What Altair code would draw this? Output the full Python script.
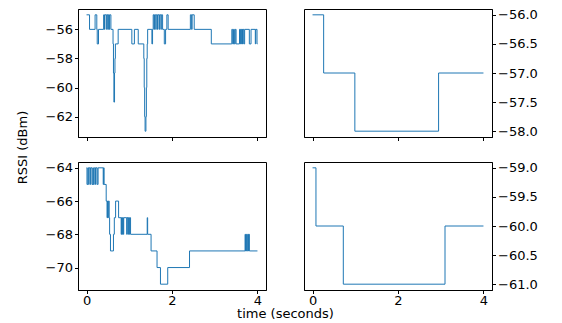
import altair as alt
import pandas as pd

# ---- data (time in seconds, RSSI in dBm) ----
tl_t = [0.00, 0.07, 0.20, 0.24, 0.25, 0.28, 0.40, 0.42, 0.43, 0.47, 0.48, 0.50, 0.51, 0.53,
        0.54, 0.57, 0.62, 0.63, 0.64, 0.655, 0.665, 0.675, 0.74, 1.06, 1.12, 1.21, 1.34,
        1.35, 1.36, 1.37, 1.39, 1.40, 1.41, 1.42, 1.43, 1.53, 1.545, 1.56, 1.58, 1.59, 1.62,
        1.63, 1.66, 1.67, 1.70, 1.71, 1.74, 1.75, 1.78, 1.82, 1.85, 1.88, 1.91, 2.43, 2.46,
        2.47, 2.52, 2.92, 3.40, 3.42, 3.44, 3.46, 3.48, 3.50, 3.58, 3.60, 3.61, 3.63, 3.64,
        3.65, 3.66, 3.68, 3.70, 3.81, 3.85, 3.95, 3.96, 3.99, 4.00]
tl_v = [-55, -56, -55, -56, -57, -56, -55, -56, -55, -56, -55, -56, -55, -56,
        -55, -56, -57, -59, -61, -59, -58, -57, -56, -57, -56, -57, -58,
        -60, -62, -63, -62, -60, -58, -57, -56, -57, -56, -55, -56, -55, -56,
        -55, -56, -55, -56, -55, -56, -55, -56, -57, -56, -55, -56, -55, -56,
        -55, -56, -57, -56, -57, -56, -57, -56, -57, -56, -57, -56, -57, -56,
        -57, -56, -57, -56, -57, -56, -57, -56, -57, -57]

bl_t = [0.00, 0.01, 0.03, 0.05, 0.06, 0.09, 0.10, 0.13, 0.15, 0.16, 0.18, 0.21, 0.22, 0.25,
        0.27, 0.39, 0.40, 0.41, 0.43, 0.46, 0.48, 0.49, 0.50, 0.51, 0.53, 0.54, 0.56, 0.63,
        0.65, 0.68, 0.75, 0.81, 0.82, 0.83, 0.84, 0.86, 0.87, 0.94, 0.95, 0.97, 0.98, 1.00,
        1.01, 1.03, 1.42, 1.43, 1.51, 1.65, 1.73, 1.90, 2.41, 3.71, 3.72, 3.74, 3.75, 3.77,
        3.79, 3.80, 3.81, 4.00]
bl_v = [-64, -65, -64, -65, -64, -65, -64, -65, -64, -65, -64, -65, -64, -65,
        -64, -65, -64, -65, -65, -66, -67, -66, -67, -66, -67, -68, -69, -68,
        -67, -66, -67, -68, -67, -68, -67, -68, -67, -68, -67, -68, -67, -68,
        -67, -68, -67, -68, -69, -70, -71, -70, -69, -68, -69, -68, -69, -68,
        -69, -68, -69, -69]

tr_t = [0.00, 0.26, 0.99, 2.95, 4.00]
tr_v = [-56, -57, -58, -57, -57]

br_t = [0.00, 0.08, 0.72, 3.10, 4.00]
br_v = [-59, -60, -61, -60, -60]

x_ticks = [0, 2, 4]
tl_yticks = [-56, -58, -60, -62]
bl_yticks = [-64, -66, -68, -70]
tr_yticks = [-56.0, -56.5, -57.0, -57.5, -58.0]
br_yticks = [-59.0, -59.5, -60.0, -60.5, -61.0]

W, H = 188, 128
LINE = "#1f77b4"


def panel(t, v, ydom, yticks, yfmt, yorient, xlabels, yextra=None, xextra=None):
    df = pd.DataFrame({"t": t, "v": v})
    xkw = dict(values=x_ticks, format="d", labels=xlabels, grid=False,
               labelFlush=False, labelPadding=1, title=None)
    if xextra:
        xkw.update(xextra)
    ykw = dict(values=yticks, format=yfmt, orient=yorient, grid=False,
               labelFlush=False, title=None)
    if yextra:
        ykw.update(yextra)
    return (
        alt.Chart(df)
        .mark_line(interpolate="step-after", color=LINE, strokeWidth=1)
        .encode(
            x=alt.X("t:Q", scale=alt.Scale(domain=[-0.2, 4.2], nice=False, zero=False),
                    axis=alt.Axis(**xkw)),
            y=alt.Y("v:Q", scale=alt.Scale(domain=ydom, nice=False, zero=False),
                    axis=alt.Axis(**ykw)),
        )
        .properties(width=W, height=H)
    )


tl = panel(tl_t, tl_v, [-63.4, -54.6], tl_yticks, "d", "left", False,
           yextra=dict(title="RSSI (dBm)", titleX=-56, titleY=138, titleAngle=270,
                       titleBaseline="middle", titleAlign="center"))
tr = panel(tr_t, tr_v, [-58.1, -55.9], tr_yticks, ".1f", "right", False)
bl = panel(bl_t, bl_v, [-71.35, -63.65], bl_yticks, "d", "left", True,
           xextra=dict(title="time (seconds)", titleX=207, titleY=23,
                       titleBaseline="middle", titleAlign="center"))
br = panel(br_t, br_v, [-61.1, -58.9], br_yticks, ".1f", "right", True)

chart = (
    alt.concat(tl, tr, bl, br, columns=2, spacing={"row": 25, "column": 38}, bounds="flush")
    .properties(padding={"left": 7, "top": 0, "right": 5, "bottom": 0}, background="white")
    .configure_view(stroke="black", strokeWidth=1)
    .configure_axis(
        labelFont="DejaVu Sans", labelFontSize=13, labelColor="black",
        titleFont="DejaVu Sans", titleFontSize=13, titleColor="black", titleFontWeight="normal",
        tickColor="black", tickSize=3.5, tickWidth=1, labelPadding=2,
        domainColor="black", domainWidth=1,
    )
)

chart.save("out.html", embed_options={"renderer": "svg", "actions": False})
